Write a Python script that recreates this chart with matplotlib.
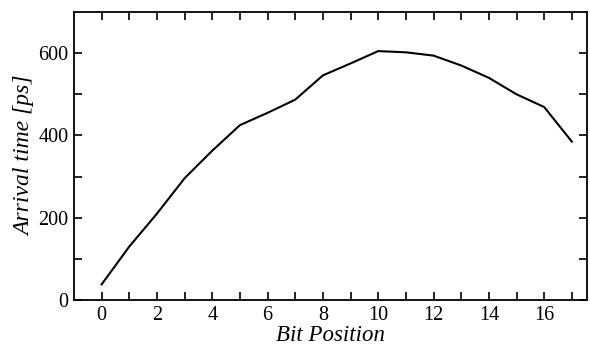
import numpy as np
from matplotlib import pyplot as plt

bits = list(range(18))
arrival = [38, 130, 210, 296, 363, 425, 455, 487, 546, 575, 605, 602,
           594, 570, 540, 500, 469, 385]

x_ticks = list(range(0, 18))
x_labels = [str(v) if v % 2 == 0 else '' for v in x_ticks]
y_ticks = list(range(0, 700, 100))
y_labels = [str(v) if v % 200 == 0 else '' for v in y_ticks]

plt.rcParams['font.family'] = ['Liberation Serif', 'DejaVu Serif']

fig = plt.figure(figsize=(5.9, 3.45), dpi=100)
ax = fig.add_axes([0.1254, 0.1304, 0.8696, 0.8348])
ax.plot(bits, arrival, color='black', linewidth=1.5)

ax.set_xlim(-1, 17.55)
ax.set_ylim(0, 700)
ax.set_xticks(x_ticks)
ax.set_xticklabels(x_labels)
ax.set_yticks(y_ticks)
ax.set_yticklabels(y_labels)
ax.tick_params(direction='in', length=6, width=1.2, top=True, right=True,
               labelsize=14.5)
ax.tick_params(axis='x', pad=4)
ax.tick_params(axis='y', pad=4)
for s in ax.spines.values():
    s.set_linewidth(1.3)

ax.set_xlabel('Bit Position', fontsize=16.5, style='italic', labelpad=-1,
              va='bottom')
ax.xaxis.set_label_coords(0.5, -0.16)
ax.set_ylabel('Arrival time [ps]', fontsize=17, style='italic', labelpad=2)

fig.savefig('out.png', dpi=100)
